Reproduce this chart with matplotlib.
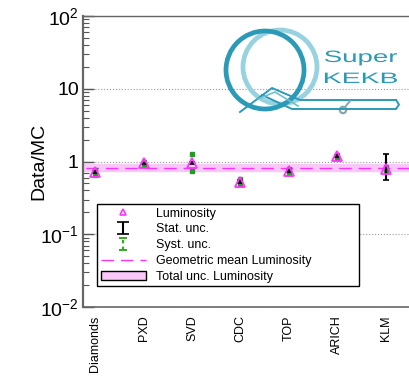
import numpy as np
import matplotlib
matplotlib.use("Agg")
import matplotlib.pyplot as plt
from matplotlib.patches import Circle, Rectangle, PathPatch
from matplotlib.textpath import TextPath
from matplotlib.font_manager import FontProperties
from matplotlib.transforms import Affine2D

plt.rcParams['font.family'] = ['Liberation Sans', 'DejaVu Sans']
plt.rcParams['mathtext.default'] = 'regular'

# data
detectors = ['Diamonds', 'PXD', 'SVD', 'CDC', 'TOP', 'ARICH', 'KLM']
ratio = [0.71, 0.94, 0.96, 0.53, 0.74, 1.18, 0.80]
stat_lo = [0.02, 0.02, 0.03, 0.02, 0.02, 0.03, 0.25]
stat_hi = [0.02, 0.02, 0.03, 0.02, 0.02, 0.03, 0.45]
syst_lo = [0.05, 0.05, 0.22, 0.04, 0.05, 0.05, 0.05]
syst_hi = [0.05, 0.05, 0.31, 0.04, 0.05, 0.05, 0.05]
geo_mean = 0.82
band_lo, band_hi = 0.74, 0.93

ytick_vals = [1e-2, 1e-1, 1, 10, 1e2]
ytick_labels = ['$10^{-2}$', '$10^{-1}$', '1', '10', '$10^{2}$']

W, H = 410, 376
fig = plt.figure(figsize=(W / 100, H / 100), dpi=100)
ax = fig.add_axes([83 / W, 1 - 307 / H, 1 - 83 / W, (307 - 16) / H])

x = np.arange(len(detectors))
pink = '#f9c8f9'
magenta = '#ff33ff'
green = '#1e9e1e'

# total uncertainty band + geometric mean
ax.axhspan(band_lo, band_hi, color=pink, zorder=1)
mline, = ax.plot([-1, 8], [geo_mean, geo_mean], color=magenta, lw=1.0,
                 dashes=(9, 5), zorder=2)

# syst errors (green dotted)
syst = ax.errorbar(x, ratio, yerr=[syst_lo, syst_hi], fmt='none',
                   ecolor=green, elinewidth=2.2, capsize=0, zorder=3)
syst[2][0].set_linestyle((0, (1, 1.5)))
ax.plot(x, np.array(ratio) + np.array(syst_hi), 's', color=green, ms=2.5, zorder=3)
ax.plot(x, np.array(ratio) - np.array(syst_lo), 's', color=green, ms=2.5, zorder=3)

# stat errors (black)
ax.errorbar(x, ratio, yerr=[stat_lo, stat_hi], fmt='none', ecolor='black',
            elinewidth=1.5, capsize=2.5, capthick=1.2, zorder=4)

# luminosity points
ax.plot(x, ratio, '^', ms=6.5, mfc='none', mec=magenta, mew=1.3,
        zorder=5, linestyle='none')

ax.set_yscale('log')
ax.set_ylim(1e-2, 1e2)
ax.set_xlim(-0.25, 6.5)
ax.set_yticks(ytick_vals)
ax.set_yticklabels(ytick_labels, fontsize=14)
ax.set_xticks(x)
ax.set_xticklabels(detectors, rotation=90, fontsize=9, va='top')
ax.tick_params(axis='x', length=0, pad=6)
ax.tick_params(axis='y', which='major', direction='in', length=8, width=1,
               color='#555555', pad=3)
ax.tick_params(axis='y', which='minor', direction='in', length=4,
               width=0.8, color='#555555')
ax.tick_params(axis='y', right=False)
ax.set_ylabel('Data/MC', fontsize=14)
ax.yaxis.set_label_coords(-0.11, 0.5)
ax.yaxis.grid(True, which='major', linestyle=':', color='#999999', lw=0.8)
ax.set_axisbelow(True)

for side in ['left', 'bottom', 'top']:
    ax.spines[side].set_color('#666666')
ax.spines['left'].set_linewidth(1.6)
ax.spines['bottom'].set_linewidth(1.2)
ax.spines['top'].set_linewidth(1.0)
ax.spines['right'].set_visible(False)

# legend proxies
nan = [np.nan]
pts_h, = ax.plot(nan, nan, '^', ms=5, mfc='none', mec=magenta, mew=1.2,
                 linestyle='none')
stat_h = ax.errorbar(nan, nan, yerr=[1], fmt='none', ecolor='black',
                     elinewidth=1.5, capsize=4, capthick=1.2)
syst_h = ax.errorbar(nan, nan, yerr=[1], fmt='none', ecolor='#33aa22',
                     elinewidth=1.6, capsize=3, capthick=1.4)
syst_h[2][0].set_linestyle((0, (1.5, 1.5)))
band_h = Rectangle((0, 0), 1, 1, facecolor=pink, edgecolor='black', lw=1)
leg = ax.legend([pts_h, stat_h, syst_h, mline, band_h],
                ['Luminosity', 'Stat. unc.', 'Syst. unc.',
                 'Geometric mean Luminosity', 'Total unc. Luminosity'],
                loc='upper left', bbox_to_anchor=(0.043, 0.072, 0.801, 0.282),
                mode='expand', fontsize=9, frameon=True, fancybox=False,
                edgecolor='black', framealpha=1, handlelength=3.6,
                handletextpad=0.85, labelspacing=0.3, borderpad=0.3,
                borderaxespad=0)
leg.get_frame().set_linewidth(1.0)

# SuperKEKB logo (rough sketch), pixel coordinates
lax = fig.add_axes([215 / W, 1 - 120 / H, (405 - 215) / W, (120 - 22) / H])
lax.set_xlim(215, 405)
lax.set_ylim(120, 22)
lax.axis('off')
dark = '#2b9ab6'
light = '#96d2df'
lax.add_patch(Circle((280, 67), 37, fill=False, ec=light, lw=3.4))
lax.add_patch(Circle((265, 70), 39, fill=False, ec=dark, lw=3.4))
lax.plot([240, 272, 300, 396], [112, 88, 100, 100], color=dark, lw=1.4,
         solid_joinstyle='round')
lax.plot([396, 399, 396, 292, 262], [100, 104.5, 109, 109, 95], color=dark,
         lw=1.4, solid_joinstyle='round')
lax.plot([258, 275, 298], [99, 92, 106], color='#6fbfd2', lw=1.2)
lax.add_patch(Circle((343, 110), 3.2, fill=False, ec='#8aa6b0', lw=1.6))
lax.plot([345, 350], [107, 101], color='#8aa6b0', lw=1.4)

fp = FontProperties(family='Liberation Sans')
for word, x0, x1, base, cap in [('Super', 325, 397, 62, 12),
                                ('KEKB', 325, 397, 83, 11)]:
    tp = TextPath((0, 0), word, size=1, prop=fp)
    ext = tp.get_extents()
    sx = (x1 - x0) / ext.width
    sy = cap / 0.73
    tr = Affine2D().translate(-ext.x0, 0).scale(sx, -sy).translate(x0, base)
    lax.add_patch(PathPatch(tr.transform_path(tp), fc=dark, ec='none'))

fig.savefig('out.png', dpi=100)
